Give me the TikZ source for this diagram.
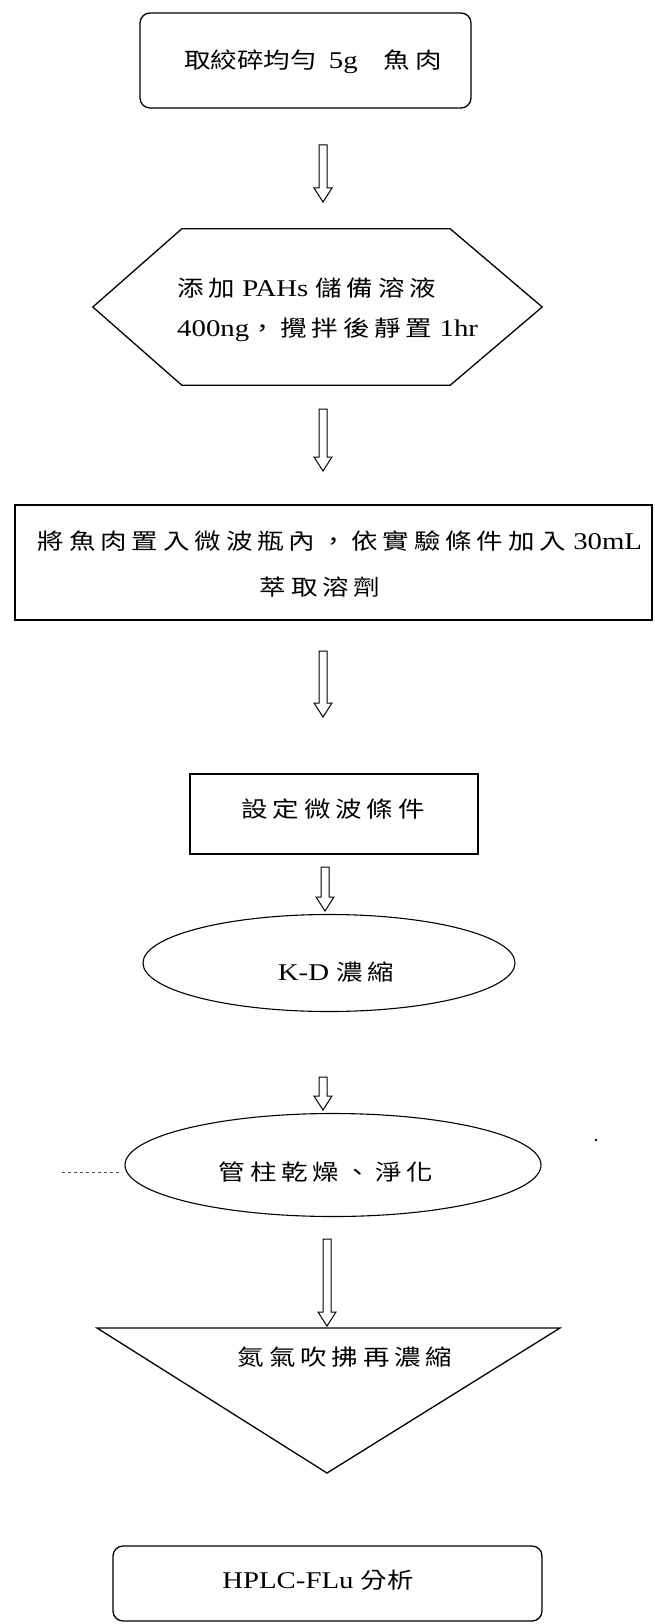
\documentclass[tikz,border=0pt]{standalone}
\usepackage{fontspec}
\setmainfont{Liberation Serif}[FakeStretch=1.2]
\newfontfamily\cjk{Noto Sans CJK TC}[FakeStretch=1.2,Scale=0.92]
\newfontfamily\cjks{Noto Sans CJK TC}[FakeStretch=1.2,Scale=0.92,LetterSpace=22]
\usetikzlibrary{shapes.geometric,calc}
\tikzset{
  every node/.style={font=\fontsize{24}{28}\selectfont},
  outline/.style={line width=1.3pt},
  rbox/.style={draw, line width=1.3pt, rounded corners=10pt, inner sep=0pt},
  sbox/.style={draw, line width=1.3pt, inner sep=0pt},
  oval/.style={draw, ellipse, line width=1.1pt, inner sep=0pt},
  ghost/.style={inner sep=0pt},
  txt/.style={inner sep=0pt},
  hollow/.style={line width=1pt, line join=miter, to path={
    let \p1=(\tikztostart), \p2=(\tikztotarget) in
    (\x1-4pt,\y1) -- (\x1-4pt,\y2+14pt) -- (\x1-9pt,\y2+14pt) -- (\x1,\y2)
    -- (\x1+9pt,\y2+14pt) -- (\x1+4pt,\y2+14pt) -- (\x1+4pt,\y1) -- cycle}},
  stray/.style={line width=0.6pt, dashed, black!70},
}
\begin{document}
\begin{tikzpicture}[x=1pt,y=-1pt]
\useasboundingbox (0,0) rectangle (655,1624);

% step 1
\node[rbox, minimum width=331pt, minimum height=95pt] (n1) at (305.5,60.5) {};
\node[txt] (n1t) at (313,62) {{\cjk 取絞碎均勻}\hspace{12pt}5g\hspace{26pt}{\cjks 魚肉}};

% step 2 (hexagon)
\node[ghost, minimum width=268pt, minimum height=156pt] (n2) at (316,307) {};
\draw[outline] (n2.north west) -- (n2.north east) -- ([xshift=92pt]n2.east)
  -- (n2.south east) -- (n2.south west) -- ([xshift=-89pt]n2.west) -- cycle;
\node[txt, anchor=west] (n2a) at (177,288) {{\cjks 添加} PAHs {\cjks 儲備溶液}};
\node[txt, anchor=west] (n2b) at (177,330) {400ng{\cjks ，攪拌後靜置} 1hr};

% step 3
\node[sbox, minimum width=637pt, minimum height=115pt] (n3) at (333.5,562.5) {};
\node[txt] (n3a) at (340,541) {{\cjks 將魚肉置入微波瓶內，依實驗條件加入} 30mL};
\node[txt] (n3b) at (320,587) {{\cjks 萃取溶劑}};

% step 4
\node[sbox, minimum width=288pt, minimum height=80pt] (n4) at (334,814) {};
\node[txt] (n4t) at (333,809) {{\cjks 設定微波條件}};

% step 5
\node[oval, minimum width=372pt, minimum height=97pt] (n5) at (329,963) {};
\node[txt] (n5t) at (336,972) {K-D {\cjks 濃縮}};

% step 6
\node[oval, minimum width=416pt, minimum height=103pt] (n6) at (333,1165) {};
\node[txt] (n6t) at (326,1172) {{\cjks 管柱乾燥、淨化}};

% step 7 (inverted triangle)
\coordinate (t1) at (97,1328);
\coordinate (t2) at (560,1328);
\coordinate (t3) at (327,1473);
\draw[outline, line join=miter] (t1) -- (t2) -- (t3) -- cycle;
\node[txt] (n7t) at (345,1357) {{\cjks 氮氣吹拂再濃縮}};

% step 8
\node[rbox, minimum width=429pt, minimum height=75pt] (n8) at (327.5,1583.5) {};
\node[txt] (n8t) at (318,1580) {HPLC-FLu {\cjk 分析}};

% hollow arrows
\coordinate (a1s) at (323,145);  \coordinate (a1e) at (323,202);
\coordinate (a2s) at (323,409);  \coordinate (a2e) at (323,471);
\coordinate (a3s) at (323,651);  \coordinate (a3e) at (323,717);
\coordinate (a4s) at (325,867);  \coordinate (a4e) at (325,911);
\coordinate (a5s) at (323,1077); \coordinate (a5e) at (323,1110);
\coordinate (a6s) at (327,1239); \coordinate (a6e) at (327,1326);
\draw[hollow] (a1s) to (a1e);
\draw[hollow] (a2s) to (a2e);
\draw[hollow] (a3s) to (a3e);
\draw[hollow] (a4s) to (a4e);
\draw[hollow] (a5s) to (a5e);
\draw[hollow] (a6s) to (a6e);

% scan marks
\coordinate (s1) at (62,1172); \coordinate (s2) at (122,1172);
\draw[stray] (s1) -- (s2);
\fill (596,1140) circle (1.3pt);
\end{tikzpicture}
\end{document}
